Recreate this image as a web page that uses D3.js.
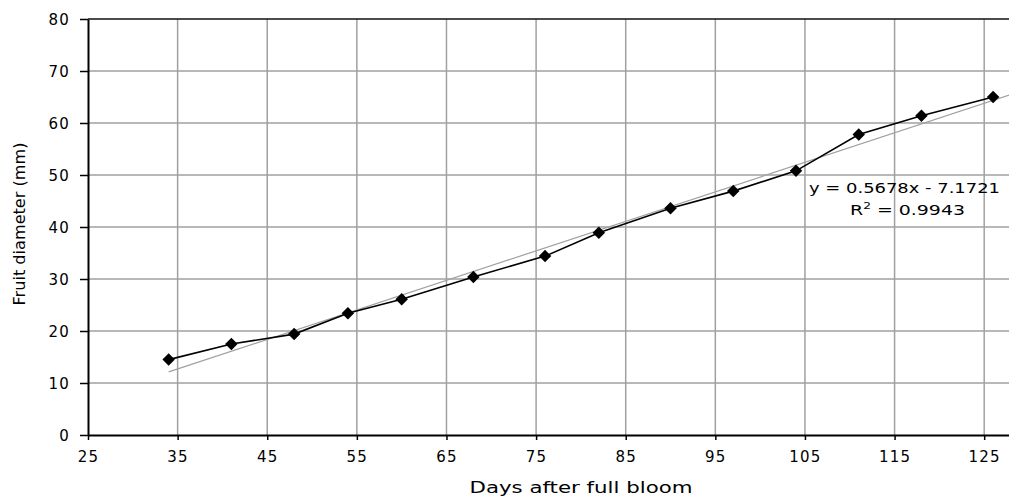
<!DOCTYPE html>
<meta charset="utf-8">
<script src="https://d3js.org/d3.v7.min.js"></script>
<style>
  body { margin: 0; background: #fff; }
  text { font-family: "DejaVu Sans", Verdana, sans-serif; fill: #000; }
</style>
<div id="chart"></div>
<script>

// data
var days     = [34, 41, 48, 54, 60, 68, 76, 82, 90, 97, 104, 111, 118, 126];
var diameter = [14.5, 17.5, 19.4, 23.4, 26.1, 30.4, 34.4, 38.9, 43.6, 46.9, 50.8, 57.8, 61.4, 65.0];
var xTicks   = [25, 35, 45, 55, 65, 75, 85, 95, 105, 115, 125];
var yTicks   = [0, 10, 20, 30, 40, 50, 60, 70, 80];
var slope = 0.5678, intercept = -7.1721;
var eqText = "y = 0.5678x - 7.1721";
var r2Text = "= 0.9943";

var W = 1009, H = 497;
var margin = {top: 19, left: 88};
var plotW = 941, plotH = 416;

var svg = d3.select("#chart").append("svg")
    .attr("width", W)
    .attr("height", H);

var g = svg.append("g")
    .attr("transform", "translate(" + margin.left + "," + margin.top + ")");

var x = d3.scaleLinear().domain([25, 130]).range([0, plotW]);
var y = d3.scaleLinear().domain([0, 80]).range([plotH, 0]);

// grid
g.append("g").selectAll("line.v")
  .data(xTicks.slice(1))
  .enter().append("line")
    .attr("x1", function(d) { return x(d); })
    .attr("x2", function(d) { return x(d); })
    .attr("y1", 0).attr("y2", plotH)
    .attr("stroke", "#a0a0a0").attr("stroke-width", 1.5);

g.append("g").selectAll("line.h")
  .data(yTicks.slice(1, -1))
  .enter().append("line")
    .attr("x1", 0).attr("x2", plotW)
    .attr("y1", function(d) { return y(d); })
    .attr("y2", function(d) { return y(d); })
    .attr("stroke", "#a0a0a0").attr("stroke-width", 1.5);

// top border
g.append("line")
  .attr("x1", 0).attr("x2", plotW)
  .attr("y1", 0).attr("y2", 0)
  .attr("stroke", "#111").attr("stroke-width", 1.5);

// axes
var xAxis = g.append("g")
  .attr("transform", "translate(0," + plotH + ")")
  .call(d3.axisBottom(x).tickValues(xTicks).tickSize(5).tickSizeOuter(0).tickPadding(11));
var yAxis = g.append("g")
  .call(d3.axisLeft(y).tickValues(yTicks).tickSize(8).tickSizeOuter(0).tickPadding(10));

[xAxis, yAxis].forEach(function(a) {
  a.select(".domain").attr("stroke", "#000").attr("stroke-width", 2);
  a.selectAll(".tick line").attr("stroke", "#000").attr("stroke-width", 1.5);
  a.selectAll(".tick text")
    .style("font-family", "DejaVu Sans, sans-serif")
    .style("font-size", "15px")
    .style("letter-spacing", "1.2px")
    .attr("fill", "#000");
});
yAxis.selectAll(".tick text").attr("dy", "0.36em");
xAxis.selectAll(".tick text").attr("dy", "0.71em");

// trend line
var trend = [d3.min(days), 130];
g.append("line")
  .attr("x1", x(trend[0])).attr("y1", y(slope * trend[0] + intercept))
  .attr("x2", x(trend[1])).attr("y2", y(slope * trend[1] + intercept))
  .attr("stroke", "#a0a0a0").attr("stroke-width", 1.2);

// data line
var line = d3.line()
  .x(function(d, i) { return x(days[i]); })
  .y(function(d) { return y(d); });

g.append("path")
  .datum(diameter)
  .attr("d", line)
  .attr("fill", "none")
  .attr("stroke", "#000")
  .attr("stroke-width", 1.6);

// diamond markers
g.selectAll(".pt")
  .data(diameter)
  .enter().append("path")
    .attr("d", d3.symbol().type(d3.symbolSquare).size(78))
    .attr("transform", function(d, i) { return "translate(" + x(days[i]) + "," + y(d) + ") rotate(45)"; })
    .attr("fill", "#000");

// equation
g.append("text")
  .attr("x", 809 - margin.left).attr("y", 193 - margin.top)
  .attr("textLength", 191).attr("lengthAdjust", "spacingAndGlyphs")
  .style("font-size", "14px")
  .text(eqText);

var r2 = g.append("text")
  .attr("x", 850 - margin.left).attr("y", 215 - margin.top)
  .attr("textLength", 115).attr("lengthAdjust", "spacingAndGlyphs")
  .style("font-size", "14px");
r2.append("tspan").text("R");
r2.append("tspan").attr("dy", -6).style("font-size", "9px").text("2");
r2.append("tspan").attr("dy", 6).text(" " + r2Text);

// axis titles
svg.append("text")
  .attr("x", 581).attr("y", 493)
  .attr("text-anchor", "middle")
  .attr("textLength", 223).attr("lengthAdjust", "spacingAndGlyphs")
  .style("font-size", "15px")
  .text("Days after full bloom");

svg.append("text")
  .attr("transform", "translate(25,224) rotate(-90)")
  .attr("text-anchor", "middle")
  .attr("textLength", 163).attr("lengthAdjust", "spacingAndGlyphs")
  .style("font-size", "15px")
  .text("Fruit diameter (mm)");

</script>
